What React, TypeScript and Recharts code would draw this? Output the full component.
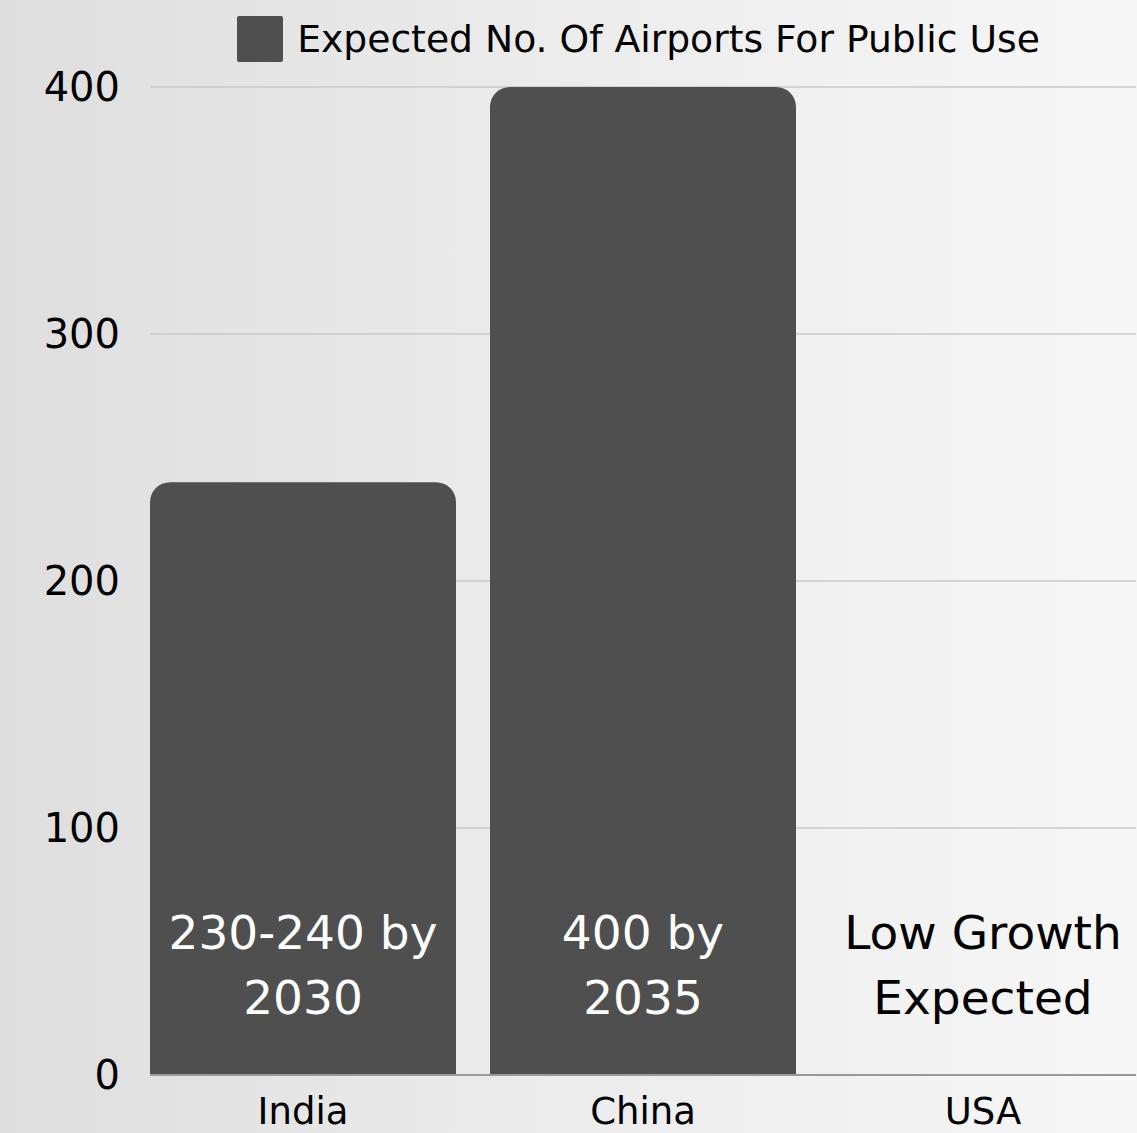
import { Bar, BarChart, CartesianGrid, Legend, ReferenceDot, XAxis, YAxis } from "recharts";

const countries = ["India", "China", "USA"];
const airports = [240, 400, 0];
const barNotes = ["230-240 by\n2030", "400 by\n2035", "Low Growth\nExpected"];
const yTicks = [0, 100, 200, 300, 400];
const seriesName = "Expected No. Of Airports For Public Use";

const data = countries.map((country, i) => ({
  country,
  airports: airports[i],
}));

const FONT = "'DejaVu Sans', sans-serif";

// two-line note just above the baseline of each category
const noteShape = (note: string, hasBar: boolean) => (props: any) => {
  const { cx, cy } = props;
  const lines = note.split("\n");
  return (
    <text textAnchor="middle" fontSize={47} fontFamily={FONT} fill={hasBar ? "#ffffff" : "#000000"}>
      {lines.map((line, i) => (
        <tspan key={i} x={cx} y={cy - 126 + i * 65}>
          {line}
        </tspan>
      ))}
    </text>
  );
};

const LegendBox = () => (
  <div style={{ display: "flex", alignItems: "center", justifyContent: "center", fontFamily: FONT, fontSize: 37.7, color: "#000" }}>
    <span style={{ display: "inline-block", width: 46, height: 46, background: "#4f4f4f", borderRadius: 2, marginRight: 14 }} />
    <span>{seriesName}</span>
  </div>
);

const App = () => {
  return (
    <div
      style={{
        position: "absolute",
        left: 0,
        top: 0,
        width: 1137,
        height: 1133,
        overflow: "hidden",
        background: "linear-gradient(to right, #dedede 0%, #ebebeb 45%, #f7f7f7 100%)",
      }}
    >
      <BarChart
        width={1137}
        height={1133}
        data={data}
        margin={{ top: 41, right: 1, bottom: 0, left: 0 }}
        barCategoryGap={17}
      >
        <CartesianGrid vertical={false} stroke="#c9c9c9" strokeWidth={1.5} />
        <XAxis
          dataKey="country"
          padding={{ left: -17, right: -17 }}
          height={58}
          tickSize={0}
          tickMargin={23}
          axisLine={{ stroke: "#999999", strokeWidth: 2 }}
          tick={{ fontSize: 37, fontFamily: FONT, fill: "#000" }}
        />
        <YAxis
          width={150}
          domain={[0, 400]}
          ticks={yTicks}
          axisLine={false}
          tickSize={0}
          tickMargin={30}
          tick={{ fontSize: 40, fontFamily: FONT, fill: "#000" }}
        />
        <Legend
          verticalAlign="top"
          content={LegendBox}
          wrapperStyle={{ top: 16, left: 140, width: 997 }}
        />
        <Bar
          dataKey="airports"
          name={seriesName}
          fill="#4f4f4f"
          radius={[20, 20, 0, 0]}
          isAnimationActive={false}
        />
        {data.map((d, i) => (
          <ReferenceDot
            key={d.country}
            x={d.country}
            y={0}
            r={1}
            ifOverflow="visible"
            shape={noteShape(barNotes[i], d.airports > 0)}
          />
        ))}
      </BarChart>
    </div>
  );
};

export default App;
